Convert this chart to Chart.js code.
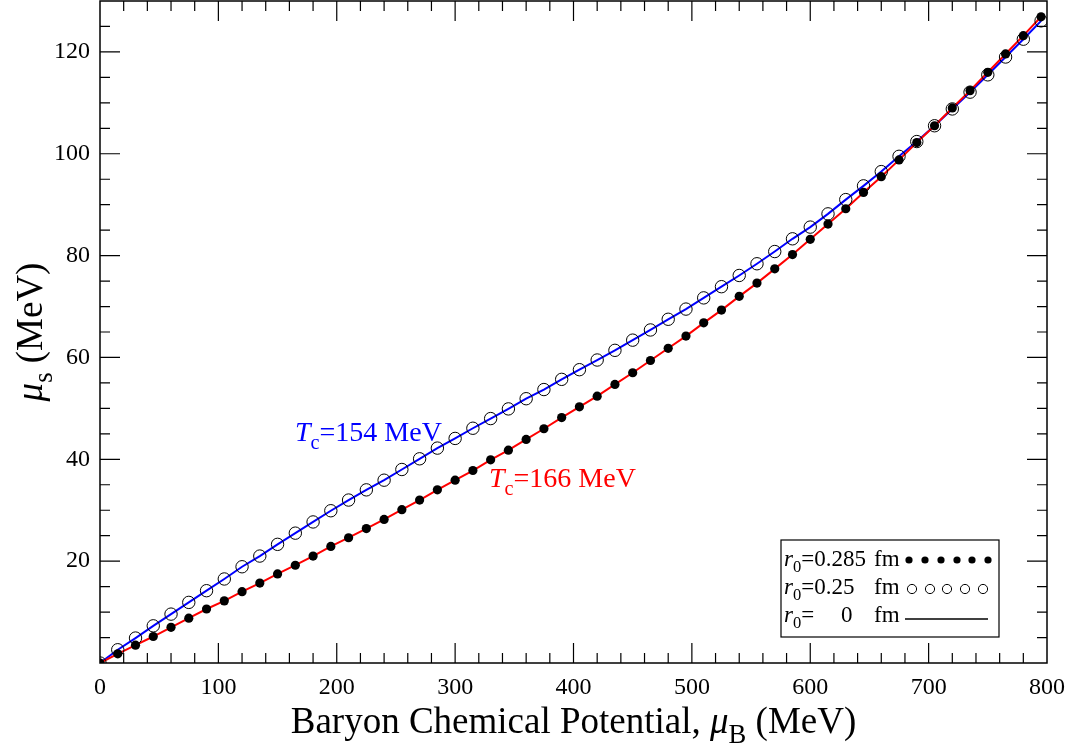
<!DOCTYPE html>
<html>
<head>
<meta charset="utf-8">
<script src="https://cdn.jsdelivr.net/npm/chart.js@4.4.1/dist/chart.umd.min.js"></script>
<style>
  html, body { margin: 0; padding: 0; background: #fff; }
  #wrap { width: 1070px; height: 756px; }
</style>
</head>
<body>
<div id="wrap"><canvas id="chart"></canvas></div>
<script>
// baryon chemical potential (MeV)
const muB = [0, 15, 30, 45, 60, 75, 90, 105, 120, 135, 150, 165, 180, 195, 210, 225, 240, 255,
  270, 285, 300, 315, 330, 345, 360, 375, 390, 405, 420, 435, 450, 465, 480, 495, 510, 525,
  540, 555, 570, 585, 600, 615, 630, 645, 660, 675, 690, 705, 720, 735, 750, 765, 780, 795]

// mu_s for Tc = 166 MeV (r0 = 0.285 fm, filled dots, red line)
const muS166 = [0, 1.8, 3.5, 5.2, 7.0, 8.8, 10.6, 12.2, 14.0, 15.7, 17.5, 19.2, 21.0, 22.9,
  24.6, 26.4, 28.2, 30.1, 32.0, 34.0, 35.9, 37.8, 39.9, 41.8, 43.9, 46.0, 48.2, 50.3, 52.4,
  54.7, 57.0, 59.4, 61.8, 64.2, 66.8, 69.3, 72.0, 74.6, 77.4, 80.2, 83.2, 86.2, 89.2, 92.4,
  95.5, 98.8, 102.2, 105.5, 109.0, 112.4, 116.0, 119.6, 123.2, 126.9]

// mu_s for Tc = 154 MeV (r0 = 0.25 fm, open circles, blue line)
const muS154 = [0, 2.6, 4.9, 7.3, 9.6, 11.9, 14.2, 16.5, 18.9, 21.0, 23.3, 25.5, 27.7, 29.9,
  32.0, 34.0, 35.9, 38.0, 40.1, 42.2, 44.1, 46.1, 48.0, 49.9, 51.9, 53.7, 55.7, 57.6, 59.5,
  61.4, 63.4, 65.4, 67.5, 69.5, 71.7, 73.9, 76.1, 78.4, 80.8, 83.3, 85.6, 88.2, 91.0, 93.7,
  96.5, 99.5, 102.4, 105.5, 108.8, 112.1, 115.5, 119.0, 122.5, 126.1]

const SERIF = '"Liberation Serif", "DejaVu Serif", serif'

const pts = (ys) => muB.map((x, i) => ({ x: x, y: ys[i] }))

// draw a run of text pieces: {t, it, sub}; returns end x
function drawRich(ctx, parts, x, y, size, color, align) {
  ctx.save()
  ctx.fillStyle = color
  ctx.textBaseline = 'alphabetic'
  ctx.textAlign = 'left'
  const fontOf = (p) => (p.it ? 'italic ' : '') + (p.sub ? size * 0.72 : size) + 'px ' + SERIF
  let total = 0
  parts.forEach(p => { ctx.font = fontOf(p); total += ctx.measureText(p.t).width })
  let cx = align === 'center' ? x - total / 2 : x
  parts.forEach(p => {
    ctx.font = fontOf(p)
    ctx.fillText(p.t, cx, y + (p.sub ? size * 0.28 : 0))
    cx += ctx.measureText(p.t).width
  })
  ctx.restore()
  return cx
}

const framePlugin = {
  id: 'frame',
  afterDraw(chart) {
    const { ctx, chartArea: a, scales } = chart
    const xs = scales.x, ys = scales.y
    ctx.save()
    ctx.strokeStyle = '#000'
    ctx.lineWidth = 1.5
    ctx.strokeRect(a.left, a.top, a.right - a.left, a.bottom - a.top)

    // inward ticks on all four sides
    ctx.lineWidth = 1.2
    ctx.beginPath()
    for (let v = 20; v < 800; v += 20) {
      const px = xs.getPixelForValue(v)
      const len = v % 100 === 0 ? 20 : 10
      ctx.moveTo(px, a.bottom); ctx.lineTo(px, a.bottom - len)
      ctx.moveTo(px, a.top); ctx.lineTo(px, a.top + len)
    }
    for (let v = 5; v < 130; v += 5) {
      const py = ys.getPixelForValue(v)
      const len = v % 20 === 0 ? 20 : 10
      ctx.moveTo(a.left, py); ctx.lineTo(a.left + len, py)
      ctx.moveTo(a.right, py); ctx.lineTo(a.right - len, py)
    }
    ctx.stroke()
    ctx.restore()

    // axis titles
    drawRich(ctx, [
      { t: 'Baryon Chemical Potential, ' },
      { t: 'μ', it: true },
      { t: 'B', sub: true },
      { t: ' (MeV)' }
    ], (a.left + a.right) / 2, 733, 37, '#000', 'center')

    ctx.save()
    ctx.translate(42, (a.top + a.bottom) / 2)
    ctx.rotate(-Math.PI / 2)
    drawRich(ctx, [
      { t: 'μ', it: true },
      { t: 's', sub: true },
      { t: ' (MeV)' }
    ], 0, 0, 37, '#000', 'center')
    ctx.restore()

    // curve labels
    drawRich(ctx, [{ t: 'T', it: true }, { t: 'c', sub: true }, { t: '=154 MeV' }], 295, 441, 28, '#0000ff')
    drawRich(ctx, [{ t: 'T', it: true }, { t: 'c', sub: true }, { t: '=166 MeV' }], 489, 487, 28, '#ff0000')

    // legend box
    ctx.save()
    ctx.strokeStyle = '#000'
    ctx.lineWidth = 1.2
    ctx.strokeRect(781, 540, 218, 97)
    const rows = [
      { y: 566, val: '0.285' },
      { y: 594, val: '0.25' },
      { y: 622, val: '0', vx: 841 }
    ]
    rows.forEach(r => {
      const ex = drawRich(ctx, [{ t: 'r', it: true }, { t: '0', sub: true }, { t: '=' }], 784, r.y, 23, '#000')
      drawRich(ctx, [{ t: r.val }], r.vx || ex, r.y, 23, '#000')
      drawRich(ctx, [{ t: 'fm' }], 874, r.y, 23, '#000')
    })
    ctx.fillStyle = '#000'
    ;[909, 925, 941, 957, 972, 988].forEach(cx => {
      ctx.beginPath(); ctx.arc(cx, 560, 3.6, 0, Math.PI * 2); ctx.fill()
    })
    ctx.lineWidth = 1
    ;[912, 930, 947, 965, 983].forEach(cx => {
      ctx.beginPath(); ctx.arc(cx, 589, 4.6, 0, Math.PI * 2); ctx.stroke()
    })
    ctx.lineWidth = 1.6
    ctx.beginPath(); ctx.moveTo(905, 619); ctx.lineTo(988, 619); ctx.stroke()
    ctx.restore()
  }
}

Chart.defaults.font.family = SERIF
Chart.defaults.font.size = 24
Chart.defaults.color = '#000'

new Chart(document.getElementById('chart'), {
  type: 'scatter',
  data: {
    datasets: [
      {
        // r0 = 0.285 fm
        data: pts(muS166),
        showLine: false,
        pointRadius: 4.6,
        pointBackgroundColor: '#000',
        pointBorderColor: '#000',
        pointBorderWidth: 0
      },
      {
        // r0 = 0.25 fm
        data: pts(muS154),
        showLine: false,
        pointRadius: 6.2,
        pointBackgroundColor: 'rgba(0,0,0,0)',
        pointBorderColor: '#000',
        pointBorderWidth: 1
      },
      {
        // r0 = 0, Tc = 166
        data: pts(muS166),
        showLine: true,
        borderColor: '#ff0000',
        borderWidth: 2,
        pointRadius: 0,
        tension: 0
      },
      {
        // r0 = 0, Tc = 154
        data: pts(muS154),
        showLine: true,
        borderColor: '#0000ff',
        borderWidth: 2,
        pointRadius: 0,
        tension: 0
      }
    ]
  },
  options: {
    responsive: true,
    maintainAspectRatio: false,
    animation: false,
    layout: { autoPadding: false, padding: { top: 1, right: 23, left: 0, bottom: 0 } },
    plugins: {
      legend: { display: false },
      tooltip: { enabled: false }
    },
    scales: {
      x: {
        type: 'linear',
        min: 0,
        max: 800,
        grid: { display: false, drawTicks: false },
        border: { display: false },
        ticks: {
          stepSize: 20,
          autoSkip: false,
          maxRotation: 0,
          padding: 10,
          callback: (v) => (v % 100 === 0 ? v : '')
        },
        afterFit: (s) => { s.height = 93; s.paddingLeft = 0; s.paddingRight = 0 }
      },
      y: {
        type: 'linear',
        min: 0,
        max: 130,
        grid: { display: false, drawTicks: false },
        border: { display: false },
        ticks: {
          stepSize: 5,
          autoSkip: false,
          padding: 10,
          callback: (v) => (v % 20 === 0 && v > 0 ? v : '')
        },
        afterFit: (s) => { s.width = 100; s.paddingTop = 0; s.paddingBottom = 0 }
      }
    }
  },
  plugins: [framePlugin]
})
</script>
</body>
</html>
